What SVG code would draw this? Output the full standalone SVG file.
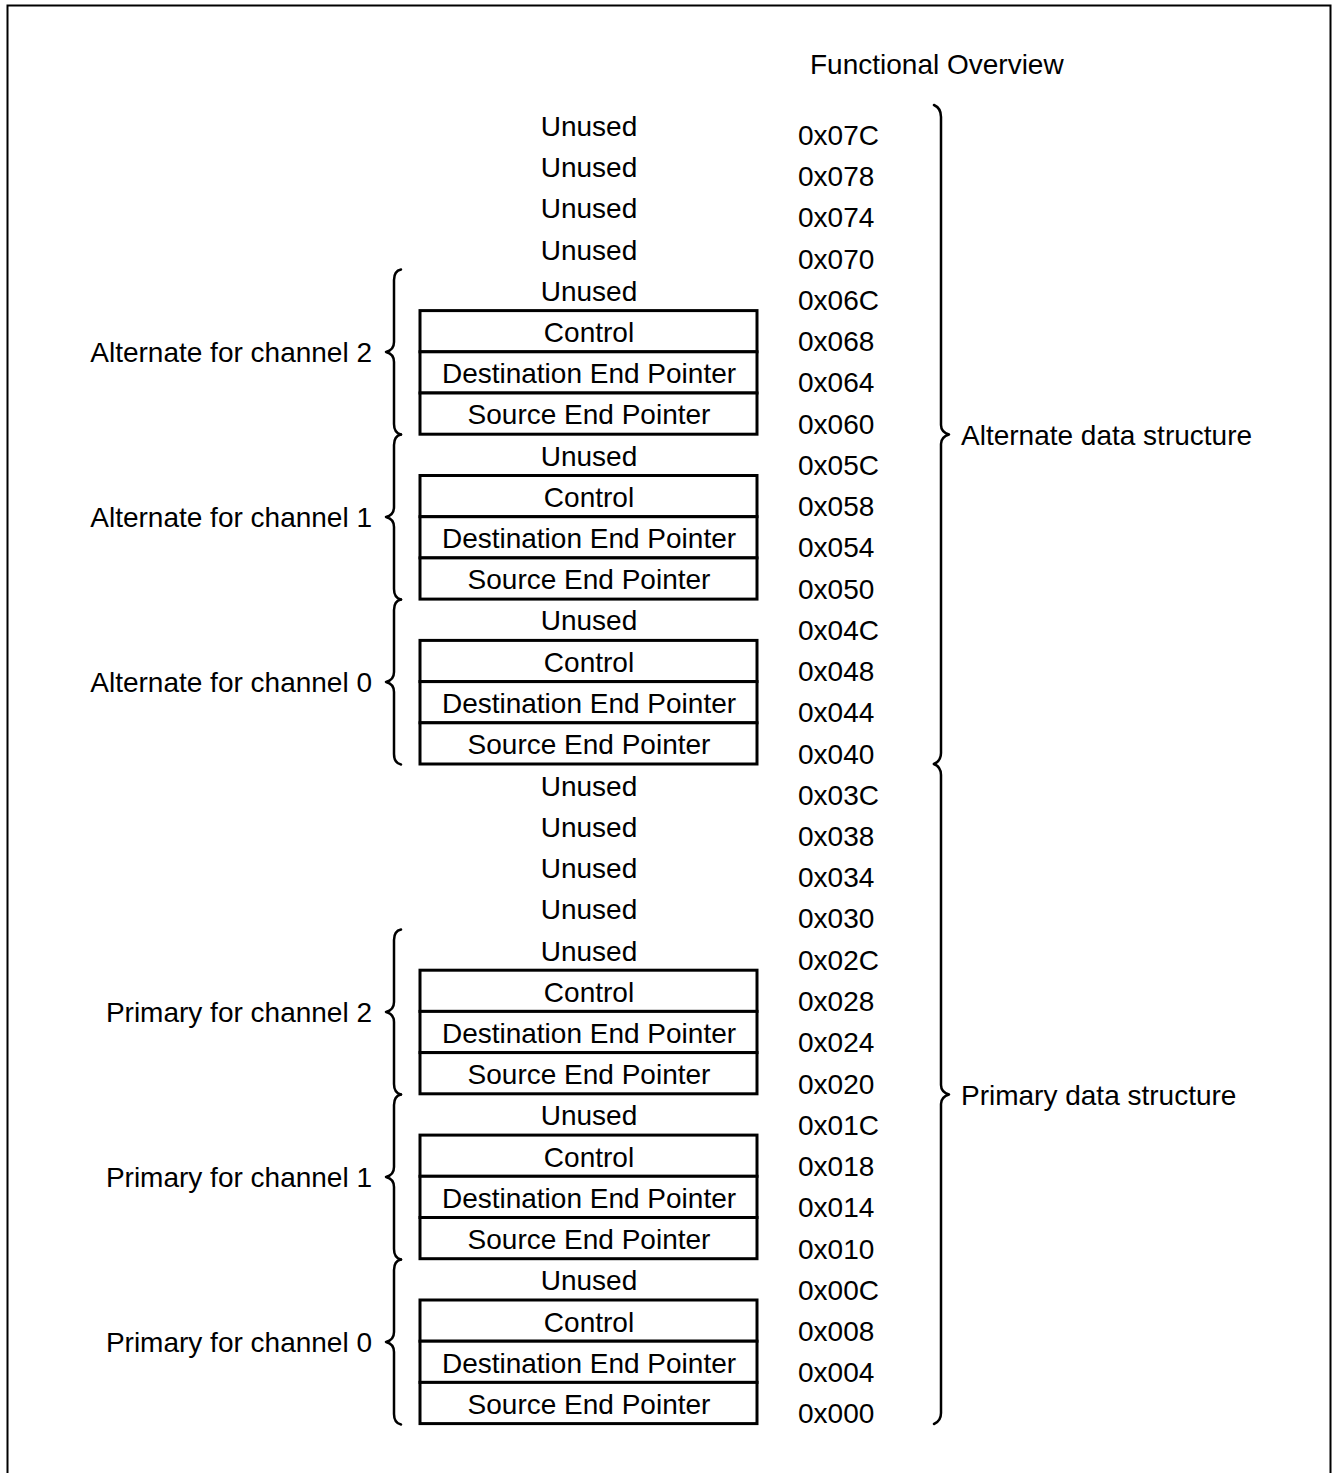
<svg xmlns="http://www.w3.org/2000/svg" width="1332" height="1473" viewBox="0 0 1332 1473">
<style>
text{font-family:"Liberation Sans",Arial,sans-serif;font-size:28px;fill:#000}
.n{text-anchor:middle}
.l{text-anchor:end}
.box{fill:#fff;stroke:#000;stroke-width:3}
.br{fill:none;stroke:#000;stroke-width:2.5;stroke-linecap:round;stroke-linejoin:round}
</style>
<rect width="1332" height="1473" fill="#fff"/>
<path d="M7.5,1473 V5.5 H1330.5 V1473" fill="none" stroke="#000" stroke-width="2"/>
<text id="title" x="810" y="74">Functional Overview</text>
<g id="rows">
<g id="r07C"><text class="n" x="589" y="136">Unused</text><text x="798" y="145">0x07C</text></g>
<g id="r078"><text class="n" x="589" y="177">Unused</text><text x="798" y="186">0x078</text></g>
<g id="r074"><text class="n" x="589" y="218">Unused</text><text x="798" y="227">0x074</text></g>
<g id="r070"><text class="n" x="589" y="260">Unused</text><text x="798" y="269">0x070</text></g>
<g id="r06C"><text class="n" x="589" y="301">Unused</text><text x="798" y="310">0x06C</text></g>
<g id="r068"><rect class="box" x="420" y="310.6" width="337" height="41.2"/><text class="n" x="589" y="342">Control</text><text x="798" y="351">0x068</text></g>
<g id="r064"><rect class="box" x="420" y="351.8" width="337" height="41.2"/><text class="n" x="589" y="383">Destination End Pointer</text><text x="798" y="392">0x064</text></g>
<g id="r060"><rect class="box" x="420" y="393" width="337" height="41.2"/><text class="n" x="589" y="424">Source End Pointer</text><text x="798" y="434">0x060</text></g>
<g id="r05C"><text class="n" x="589" y="466">Unused</text><text x="798" y="475">0x05C</text></g>
<g id="r058"><rect class="box" x="420" y="475.5" width="337" height="41.2"/><text class="n" x="589" y="507">Control</text><text x="798" y="516">0x058</text></g>
<g id="r054"><rect class="box" x="420" y="516.7" width="337" height="41.2"/><text class="n" x="589" y="548">Destination End Pointer</text><text x="798" y="557">0x054</text></g>
<g id="r050"><rect class="box" x="420" y="557.9" width="337" height="41.2"/><text class="n" x="589" y="589">Source End Pointer</text><text x="798" y="599">0x050</text></g>
<g id="r04C"><text class="n" x="589" y="630">Unused</text><text x="798" y="640">0x04C</text></g>
<g id="r048"><rect class="box" x="420" y="640.4" width="337" height="41.2"/><text class="n" x="589" y="672">Control</text><text x="798" y="681">0x048</text></g>
<g id="r044"><rect class="box" x="420" y="681.6" width="337" height="41.2"/><text class="n" x="589" y="713">Destination End Pointer</text><text x="798" y="722">0x044</text></g>
<g id="r040"><rect class="box" x="420" y="722.8" width="337" height="41.2"/><text class="n" x="589" y="754">Source End Pointer</text><text x="798" y="764">0x040</text></g>
<g id="r03C"><text class="n" x="589" y="796">Unused</text><text x="798" y="805">0x03C</text></g>
<g id="r038"><text class="n" x="589" y="837">Unused</text><text x="798" y="846">0x038</text></g>
<g id="r034"><text class="n" x="589" y="878">Unused</text><text x="798" y="887">0x034</text></g>
<g id="r030"><text class="n" x="589" y="919">Unused</text><text x="798" y="928">0x030</text></g>
<g id="r02C"><text class="n" x="589" y="961">Unused</text><text x="798" y="970">0x02C</text></g>
<g id="r028"><rect class="box" x="420" y="970.2" width="337" height="41.2"/><text class="n" x="589" y="1002">Control</text><text x="798" y="1011">0x028</text></g>
<g id="r024"><rect class="box" x="420" y="1011.4" width="337" height="41.2"/><text class="n" x="589" y="1043">Destination End Pointer</text><text x="798" y="1052">0x024</text></g>
<g id="r020"><rect class="box" x="420" y="1052.6" width="337" height="41.2"/><text class="n" x="589" y="1084">Source End Pointer</text><text x="798" y="1094">0x020</text></g>
<g id="r01C"><text class="n" x="589" y="1125">Unused</text><text x="798" y="1135">0x01C</text></g>
<g id="r018"><rect class="box" x="420" y="1135.1" width="337" height="41.2"/><text class="n" x="589" y="1167">Control</text><text x="798" y="1176">0x018</text></g>
<g id="r014"><rect class="box" x="420" y="1176.3" width="337" height="41.2"/><text class="n" x="589" y="1208">Destination End Pointer</text><text x="798" y="1217">0x014</text></g>
<g id="r010"><rect class="box" x="420" y="1217.5" width="337" height="41.2"/><text class="n" x="589" y="1249">Source End Pointer</text><text x="798" y="1259">0x010</text></g>
<g id="r00C"><text class="n" x="589" y="1290">Unused</text><text x="798" y="1300">0x00C</text></g>
<g id="r008"><rect class="box" x="420" y="1300" width="337" height="41.2"/><text class="n" x="589" y="1332">Control</text><text x="798" y="1341">0x008</text></g>
<g id="r004"><rect class="box" x="420" y="1341.2" width="337" height="41.2"/><text class="n" x="589" y="1373">Destination End Pointer</text><text x="798" y="1382">0x004</text></g>
<g id="r000"><rect class="box" x="420" y="1382.4" width="337" height="41.2"/><text class="n" x="589" y="1414">Source End Pointer</text><text x="798" y="1423">0x000</text></g>
</g>
<g id="labels">
<text id="alt2" class="l" x="372" y="362">Alternate for channel 2</text>
<text id="alt1" class="l" x="372" y="527">Alternate for channel 1</text>
<text id="alt0" class="l" x="372" y="692">Alternate for channel 0</text>
<text id="pri2" class="l" x="372" y="1022">Primary for channel 2</text>
<text id="pri1" class="l" x="372" y="1187">Primary for channel 1</text>
<text id="pri0" class="l" x="372" y="1352">Primary for channel 0</text>
<text id="altds" x="961" y="445">Alternate data structure</text>
<text id="prids" x="961" y="1105">Primary data structure</text>
</g>
<g id="connectors">
<path class="br" d="M401,269.5 Q394,271 394,280 V342 Q394,350 386,352 Q394,354 394,362 V424 Q394,433 401,434.5"/>
<path class="br" d="M401,434.5 Q394,436 394,445 V507 Q394,515 386,517 Q394,519 394,527 V589 Q394,598 401,599.5"/>
<path class="br" d="M401,599.5 Q394,601 394,610 V672 Q394,680 386,682 Q394,684 394,692 V754 Q394,763 401,764.5"/>
<path class="br" d="M401,929.5 Q394,931 394,940 V1002 Q394,1010 386,1012 Q394,1014 394,1022 V1084 Q394,1093 401,1094.5"/>
<path class="br" d="M401,1094.5 Q394,1096 394,1105 V1167 Q394,1175 386,1177 Q394,1179 394,1187 V1249 Q394,1258 401,1259.5"/>
<path class="br" d="M401,1259.5 Q394,1261 394,1270 V1332 Q394,1340 386,1342 Q394,1344 394,1352 V1414 Q394,1423 401,1424.5"/>
<path class="br" d="M934,105 Q941,108 941,117 V425 Q941,432 949,434.5 Q941,437 941,444 V753 Q941,761 934,764"/>
<path class="br" d="M934,764 Q941,767 941,775 V1085 Q941,1092 949,1094.5 Q941,1097 941,1104 V1413 Q941,1421 934,1424"/>
</g>
</svg>
